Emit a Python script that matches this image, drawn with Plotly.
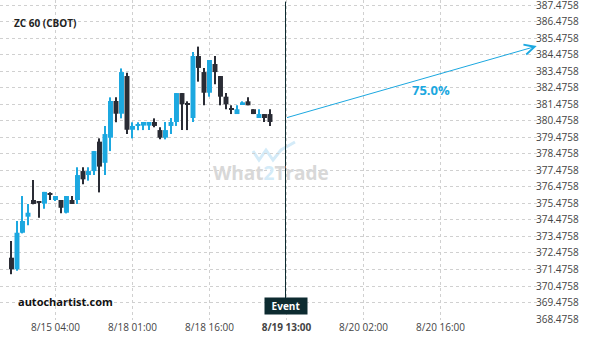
import plotly.graph_objects as go

# ---- data ----
idx = list(range(48))
opens = [372.19, 371.49, 373.70, 374.67, 375.68, 375.52, 375.46, 376.02, 375.68, 375.68,
         374.91, 375.68, 375.68, 377.43, 377.19, 377.43, 379.21, 377.93, 379.45, 381.67,
         380.90, 383.18, 379.93, 380.20, 380.18, 380.18, 380.40, 379.91, 379.45, 380.16,
         380.40, 382.15, 381.48, 380.64, 384.39, 383.42, 382.17, 383.91, 383.18, 381.93,
         381.18, 380.88, 381.47, 381.65, 381.17, 380.64, 380.88, 380.88]
highs = [373.20, 374.41, 375.92, 375.44, 376.89, 375.53, 376.17, 376.15, 375.92, 375.68,
         375.92, 375.92, 377.66, 377.66, 377.66, 378.64, 379.41, 380.16, 381.89, 381.89,
         383.64, 383.38, 380.38, 380.38, 380.40, 380.40, 380.62, 380.08, 380.40, 380.64,
         382.15, 382.15, 381.65, 384.63, 384.96, 383.67, 384.15, 384.39, 383.18, 382.15,
         381.41, 381.41, 381.65, 381.89, 381.17, 381.17, 380.88, 381.17]
lows = [371.19, 371.40, 373.66, 374.15, 375.42, 374.61, 375.15, 375.68, 375.62, 374.88,
        374.87, 375.44, 375.44, 376.63, 376.85, 377.19, 376.14, 377.19, 378.64, 380.38,
        380.62, 379.67, 379.41, 379.90, 379.91, 379.91, 380.08, 379.35, 379.35, 379.67,
        380.16, 379.91, 379.91, 380.40, 382.84, 381.41, 381.93, 382.68, 381.41, 381.17,
        380.88, 380.88, 381.47, 381.41, 380.88, 380.64, 380.40, 380.16]
closes = [371.49, 373.70, 374.41, 374.91, 375.44, 375.50, 376.17, 376.00, 375.92, 375.21,
          375.92, 375.44, 377.19, 376.93, 377.43, 378.64, 377.70, 379.67, 381.67, 380.90,
          383.42, 379.93, 380.16, 380.22, 380.40, 380.40, 380.16, 379.45, 379.91, 380.40,
          382.15, 381.47, 381.46, 384.39, 383.67, 382.17, 384.15, 383.42, 381.93, 381.47,
          381.16, 381.17, 381.59, 381.41, 380.88, 380.88, 380.64, 380.40]

x_tick_pos = [8, 22, 36, 50, 64, 78]
x_tick_labels = ["8/15 04:00", "8/18 01:00", "8/18 16:00", "<b>8/19 13:00</b>", "8/20 02:00", "8/20 16:00"]
y_tick_vals = [368.4758 + i for i in range(20)]
y_tick_labels = ["%.4f" % v for v in y_tick_vals]

event_x = 49.82
arrow_start = (49.82, 380.64)
arrow_end = (95.5, 384.99)
prob_label = "75.0%"
prob_pos = (76.2, 382.33)
title = "ZC 60 (CBOT)"

BLUE = "#1ca8e0"
DARK = "#2a2c35"
EVENT = "#0d2b30"
GRID = "#d0d0d0"

colors = [BLUE if c > o else DARK for o, c in zip(opens, closes)]
body_base = [min(o, c) for o, c in zip(opens, closes)]
body_h = [max(abs(c - o), 0.065) for o, c in zip(opens, closes)]
wick_h = [h - l for h, l in zip(highs, lows)]

fig = go.Figure()
fig.add_trace(go.Bar(x=idx, y=wick_h, base=lows, width=0.19,
                     marker=dict(color=colors, line=dict(width=0)),
                     showlegend=False, hoverinfo="skip"))
fig.add_trace(go.Bar(x=idx, y=body_h, base=body_base, width=0.9,
                     marker=dict(color=colors, line=dict(width=0)),
                     showlegend=False, hoverinfo="skip"))

fig.update_layout(
    template="none",
    width=600, height=340,
    margin=dict(l=0, r=55, t=0, b=20, pad=0),
    paper_bgcolor="white", plot_bgcolor="rgba(0,0,0,0)",
    barmode="overlay",
    font=dict(family="Open Sans, sans-serif", size=10, color="#444"),
    xaxis=dict(
        range=[-2.09, 97.0], automargin=False,
        tickmode="array", tickvals=x_tick_pos, ticktext=x_tick_labels,
        showgrid=True, gridcolor=GRID, griddash="3px,3px", gridwidth=1,
        zeroline=False, showline=False, ticks="", ticklen=0,
        tickfont=dict(size=10, color="#444"),
    ),
    yaxis=dict(
        range=[368.42, 387.78], side="right", automargin=False,
        tickmode="array", tickvals=y_tick_vals, ticktext=y_tick_labels,
        showgrid=True, gridcolor=GRID, griddash="3px,3px", gridwidth=1,
        zeroline=False, showline=False, ticks="", ticklen=0,
        ticklabeloverflow="allow", ticklabelstandoff=-10,
        tickfont=dict(size=10, color="#444"),
    ),
)

# event line
fig.add_shape(type="line", xref="x", yref="paper", x0=event_x, x1=event_x, y0=0.04, y1=0.995,
              line=dict(color=EVENT, width=1))

# watermark logo
fig.add_shape(type="path", xref="paper", yref="paper",
              path="M %f,%f L %f,%f L %f,%f L %f,%f L %f,%f L %f,%f" % (
                  253/545, 1-151/320, 259/545, 1-160/320, 266/545, 1-150/320,
                  273/545, 1-160/320, 281/545, 1-150/320, 295/545, 1-142/320),
              line=dict(color="#d4ebf8", width=3), layer="below")
fig.add_annotation(xref="paper", yref="paper", x=271/545, y=1-173/320, showarrow=False,
                   text="What<span style='color:#d4ebf8'>2</span>Trade",
                   font=dict(family="Open Sans, sans-serif", size=19, color="#d8d8d8", weight="bold"))

# probability arrow
fig.add_annotation(x=arrow_end[0], y=arrow_end[1], ax=arrow_start[0], ay=arrow_start[1],
                   xref="x", yref="y", axref="x", ayref="y", text="", showarrow=True,
                   arrowhead=5, arrowsize=2, arrowwidth=1, arrowcolor=BLUE, standoff=0)
fig.add_annotation(x=prob_pos[0], y=prob_pos[1], xref="x", yref="y", text=prob_label,
                   showarrow=False, font=dict(size=13, color=BLUE, weight="bold"))

# title & branding
fig.add_annotation(xref="paper", yref="paper", x=12/545, y=1-14/320, xanchor="left",
                   text="<b>" + title + "</b>", showarrow=False,
                   font=dict(size=10, color="#222"))
fig.add_annotation(xref="paper", yref="paper", x=16/545, y=1-311/320, xanchor="left",
                   text="<b>autochartist.com</b>", showarrow=False,
                   font=dict(size=11, color="#111"))
# Event label box
fig.add_annotation(xref="x", yref="paper", x=event_x, y=1-314.5/320, text="<b>Event</b>",
                   showarrow=False, bgcolor=EVENT, font=dict(size=10, color="white"),
                   borderpad=1, width=40)

fig.write_html("out.html")
